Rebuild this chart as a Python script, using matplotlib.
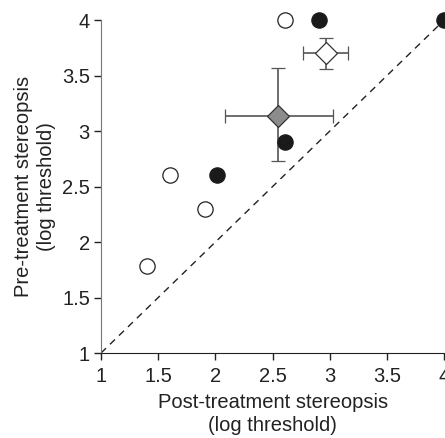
import matplotlib
matplotlib.use("Agg")
import matplotlib.pyplot as plt

plt.rcParams['font.family'] = ['Liberation Sans', 'DejaVu Sans']

open_x = [1.40, 1.60, 1.91, 2.61]
open_y = [1.78, 2.60, 2.30, 4.00]
filled_x = [2.01, 2.61, 2.91, 4.00]
filled_y = [2.60, 2.90, 4.00, 4.00]

gray_mean = (2.55, 3.14)
gray_xrange = (2.08, 3.03)
gray_yrange = (2.73, 3.57)
white_mean = (2.97, 3.70)
white_xrange = (2.77, 3.16)
white_yrange = (3.56, 3.84)

ticks = [1, 1.5, 2, 2.5, 3, 3.5, 4]
tick_labels = ['1', '1.5', '2', '2.5', '3', '3.5', '4']

fig = plt.figure(figsize=(4.45, 4.38), dpi=100)
ax = fig.add_axes([0.227, 0.194, 0.771, 0.760])

ax.plot([1, 4], [1, 4], linestyle=(0, (5, 4)), color='#222222', lw=1.0, zorder=1)

for (mx, my), (x0, x1), (y0, y1), fc in [
        (gray_mean, gray_xrange, gray_yrange, '#8c8c8c'),
        (white_mean, white_xrange, white_yrange, 'white')]:
    ax.errorbar([mx], [my], xerr=[[mx - x0], [x1 - mx]], yerr=[[my - y0], [y1 - my]],
                fmt='D', ms=11, mfc=fc, mec='#333333', mew=0.9,
                ecolor='#555555', elinewidth=1.2, capsize=5, capthick=1.2, zorder=3)

ax.plot(open_x, open_y, 'o', ms=11, mfc='white', mec='#222222', mew=0.9,
        clip_on=False, zorder=4)
ax.plot(filled_x, filled_y, 'o', ms=11, mfc='#1a1a1a', mec='#1a1a1a', mew=0.9,
        clip_on=False, zorder=4)

ax.set_xlim(1, 4)
ax.set_ylim(1, 4)
ax.set_xticks(ticks)
ax.set_xticklabels(tick_labels)
ax.set_yticks(ticks)
ax.set_yticklabels(tick_labels)
ax.tick_params(labelsize=14.5, length=5, width=1, direction='out', colors='#222222')
ax.tick_params(axis='x', pad=5)
ax.tick_params(axis='y', pad=3)
for s in ['top', 'right']:
    ax.spines[s].set_visible(False)
ax.spines['left'].set_color('#777777')
ax.spines['bottom'].set_color('#222222')

ax.set_xlabel('Post-treatment stereopsis\n(log threshold)', fontsize=14.5, color='#222222',
              labelpad=5, linespacing=1.3)
ax.set_ylabel('Pre-treatment stereopsis\n(log threshold)', fontsize=14.5, color='#222222',
              labelpad=4, linespacing=1.3)

fig.savefig('out.png', dpi=100)
